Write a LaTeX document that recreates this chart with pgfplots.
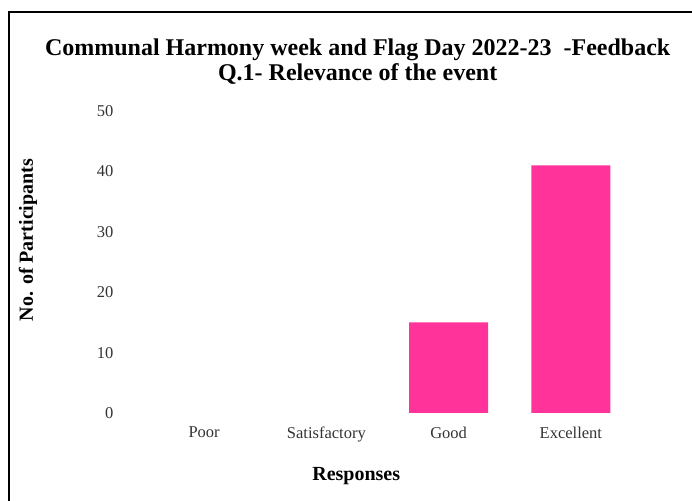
\documentclass[border=0pt]{standalone}
\usepackage{fontspec}
\setmainfont{Liberation Serif}
\usepackage{pgfplots}
\pgfplotsset{compat=1.18}
\definecolor{barpink}{HTML}{FF3399}
\definecolor{ticktext}{HTML}{333333}
\begin{document}
\begin{tikzpicture}
\path[use as bounding box] (0bp,0bp) rectangle (692bp,501bp);
\draw[line width=2bp] (9bp,0bp) -- (9bp,489bp) -- (692bp,489bp);
\begin{axis}[
  at={(143bp,88bp)}, anchor=south west,
  scale only axis, width=489bp, height=302bp,
  xmin=-0.5, xmax=3.5, ymin=0, ymax=50,
  ybar, bar width=79bp,
  axis line style={draw=none}, tick style={draw=none},
  ytick={0,10,20,30,40,50},
  xtick={0,1,2,3},
  xticklabels={Poor,Satisfactory,Good,Excellent},
  /pgf/number format/assume math mode=true,
  tick label style={font=\fontsize{16.5bp}{19bp}\selectfont, text=ticktext},
  yticklabel style={anchor=east, xshift=-26bp},
  xticklabel style={anchor=north, yshift=-6bp},
  xlabel={Responses},
  ylabel={No. of Participants},
  label style={font=\bfseries\fontsize{20bp}{23bp}\selectfont},
  xlabel style={at={(axis description cs:0.436,-0.209)}, anchor=center},
  ylabel style={at={(axis description cs:-0.235,0.573)}, anchor=center, rotate=0},
  title={Communal Harmony week and Flag Day 2022-23\ \ -Feedback\\Q.1- Relevance of the event},
  title style={at={(axis description cs:0.439,1.143)}, anchor=center, align=center,
    font=\bfseries\fontsize{24bp}{25bp}\selectfont},
]
\addplot[fill=barpink, draw=none] coordinates {(0,0) (1,0) (2,15) (3,41)};
\end{axis}
\end{tikzpicture}
\end{document}
